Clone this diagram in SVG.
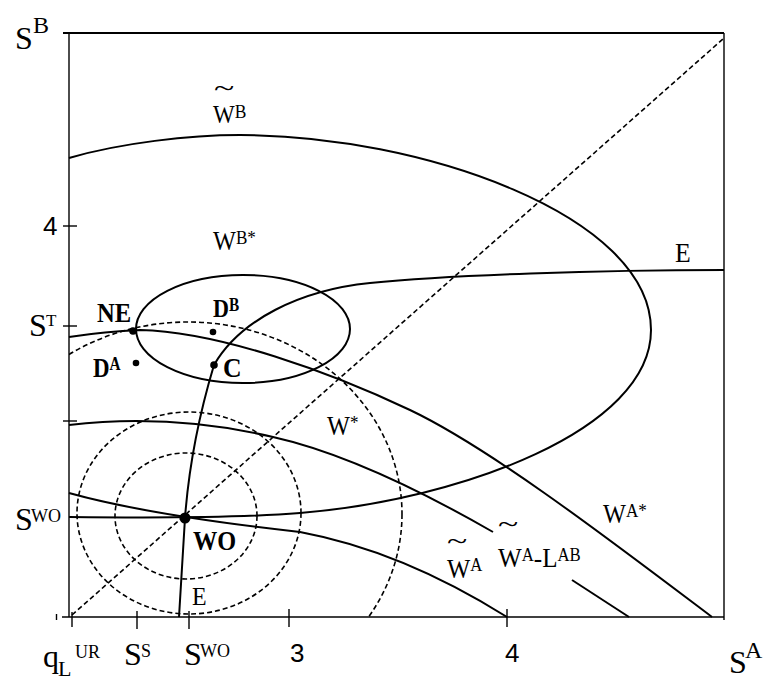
<svg xmlns="http://www.w3.org/2000/svg" width="772" height="682" viewBox="0 0 772 682">
<defs>
<style>
.ax{stroke:#000;stroke-width:1.4;fill:none}
.frame{stroke:#000;stroke-width:2;fill:none}
.cv{stroke:#000;stroke-width:2;fill:none}
.ds{stroke:#000;stroke-width:1.6;fill:none;stroke-dasharray:5 3}
.t{font-family:"Liberation Serif","Times New Roman",serif;fill:#000}
.b{font-family:"Liberation Serif","Times New Roman",serif;font-weight:bold;fill:#000}
.n{font-family:"Liberation Sans",Arial,sans-serif;fill:#000}
.dot{fill:#000}
</style>
<clipPath id="box"><rect x="69" y="33" width="655" height="584"/></clipPath>
</defs>
<rect width="772" height="682" fill="#fff"/>

<g id="axes">
<line class="frame" x1="63" y1="33" x2="724" y2="33"/>
<line class="ax" x1="724" y1="33" x2="724" y2="620"/>
<line class="ax" x1="69" y1="33" x2="69" y2="617"/>
<line class="ax" x1="62" y1="617" x2="724" y2="617"/>
<line class="ax" x1="63" y1="226" x2="77" y2="226"/>
<line class="ax" x1="63" y1="326" x2="77" y2="326"/>
<line class="ax" x1="63" y1="421" x2="77" y2="421"/>
<line class="ax" x1="72" y1="612" x2="72" y2="627"/>
<line class="ax" x1="137" y1="611" x2="137" y2="629"/>
<line class="ax" x1="189" y1="611" x2="189" y2="629"/>
<line class="ax" x1="289" y1="609" x2="289" y2="627"/>
<line class="ax" x1="507" y1="609" x2="507" y2="627"/>
<line class="ax" x1="56.5" y1="614" x2="56.5" y2="620"/>
</g>

<g id="connectors">
<line class="ds" x1="72" y1="615" x2="723" y2="39"/>
<g clip-path="url(#box)">
<ellipse class="ds" cx="186" cy="516" rx="71" ry="63"/>
<ellipse class="ds" cx="189" cy="513" rx="112" ry="101"/>
<ellipse class="ds" cx="188" cy="514" rx="214" ry="192"/>
</g>
<path id="WB-tilde-curve" class="cv" d="M69,158 C120,143 190,135 240,135 C420,135 651,215 651,330 C651,430 460,500 300,513 C240,518 150,518 69,517"/>
<ellipse id="WBstar-curve" class="cv" cx="243" cy="329" rx="107" ry="54"/>
<path id="E-curve" class="cv" d="M724,270 C600,270 450,275 370,283 C300,290 240,320 214,365 C205,395 190,450 185,518 L179,617"/>
<path id="WAstar-curve" class="cv" d="M69,337 C95,333 115,331 140,330 C220,332 330,372 410,410 C490,448 610,540 712,617"/>
<path id="WA-LAB-curve" class="cv" d="M69,425 C130,418 200,420 273,437 C340,452 420,490 493,532"/>
<line class="cv" x1="572" y1="580" x2="629" y2="617"/>
<path id="WA-tilde-curve" class="cv" d="M69,493 C130,510 210,522 300,532 C370,545 440,575 507,617"/>
</g>

<g id="NE"><circle class="dot" cx="133" cy="331" r="3.8"/><text class="b" font-size="28" transform="translate(97,322) scale(0.88,1)">NE</text></g>
<g id="DB"><circle class="dot" cx="213" cy="332" r="3.3"/><text class="b" font-size="26" transform="translate(213,317) scale(0.85,1)">D<tspan font-size="18" dy="-6">B</tspan></text></g>
<g id="DA"><circle class="dot" cx="136" cy="363" r="3.3"/><text class="b" font-size="27" transform="translate(93,377) scale(0.85,1)">D<tspan font-size="18" dy="-7">A</tspan></text></g>
<g id="C"><circle class="dot" cx="214" cy="365" r="3.8"/><text class="b" font-size="28" transform="translate(223,377) scale(0.92,1)">C</text></g>
<g id="WO"><circle class="dot" cx="185" cy="518" r="5.5"/><text class="b" font-size="27" transform="translate(193,550) scale(0.9,1)">WO</text></g>

<g id="labels">
<text class="t" font-size="22" transform="translate(214,97) scale(1.7,1.2)">~</text>
<text class="t" font-size="25" transform="translate(213,123) scale(0.92,1)">W<tspan font-size="19" dy="-5">B</tspan></text>
<text class="t" font-size="27" transform="translate(213,250) scale(0.9,1)">W<tspan font-size="19" dy="-6">B*</tspan></text>
<text class="t" font-size="28" transform="translate(675,262) scale(0.92,1)">E</text>
<text class="t" font-size="26" transform="translate(192,605) scale(0.92,1)">E</text>
<text class="t" font-size="27" transform="translate(327,435) scale(0.9,1)">W<tspan font-size="19" dy="-6">*</tspan></text>
<text class="t" font-size="27" transform="translate(603,523) scale(0.9,1)">W<tspan font-size="19" dy="-6">A*</tspan></text>
<text class="t" font-size="22" transform="translate(447,550) scale(1.7,1.2)">~</text>
<text class="t" font-size="28" transform="translate(447,578) scale(0.88,1)">W<tspan font-size="19" dy="-7">A</tspan></text>
<text class="t" font-size="22" transform="translate(498,533) scale(1.7,1.2)">~</text>
<text class="t" font-size="27" transform="translate(498,567) scale(0.93,1)">W<tspan font-size="18" dy="-6">A</tspan><tspan dy="6">-L</tspan><tspan font-size="18" dy="-6">AB</tspan></text>

<text class="t" x="15" y="49" font-size="32">S</text><text class="t" x="33" y="33" font-size="24">B</text>
<text class="t" x="729" y="673" font-size="32">S</text><text class="t" x="745" y="658" font-size="24">A</text>
<text class="n" x="43" y="235" font-size="26">4</text>
<text class="t" x="29" y="336" font-size="32">S</text><text class="t" x="46" y="326" font-size="17">T</text>
<text class="t" x="15" y="530" font-size="32">S</text><text class="t" x="31" y="522" font-size="18">WO</text>
<text class="t" x="43" y="667" font-size="32">q</text><text class="t" x="58" y="676" font-size="22">L</text><text class="t" x="75" y="658" font-size="18">UR</text>
<text class="t" x="124" y="665" font-size="32">S</text><text class="t" x="141" y="657" font-size="18">S</text>
<text class="t" x="184" y="665" font-size="32">S</text><text class="t" x="200" y="657" font-size="18">WO</text>
<text class="n" x="290" y="662" font-size="26">3</text>
<text class="n" x="505" y="662" font-size="26">4</text>
</g>
</svg>
